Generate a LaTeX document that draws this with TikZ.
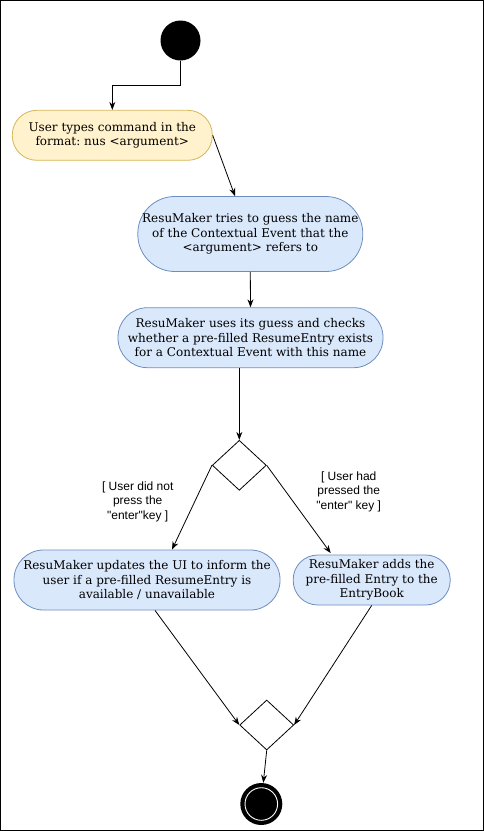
\documentclass[tikz,border=0pt]{standalone}
\usepackage{fontspec}
\setmainfont{DejaVu Serif}
\setsansfont{Liberation Sans}[Ligatures=TeXOff]
\usetikzlibrary{shapes.geometric,arrows.meta,calc}
\definecolor{yfill}{HTML}{FFF2CC}
\definecolor{ydraw}{HTML}{D6B656}
\definecolor{bfill}{HTML}{DAE8FC}
\definecolor{bdraw}{HTML}{6C8EBF}
\frenchspacing
\begin{document}
\begin{tikzpicture}[x=1pt,y=-1pt,
  act/.style={rounded corners=#1, align=center, inner sep=0pt, line width=0.8pt,
    font=\fontsize{12}{14.3}\selectfont},
  yact/.style={act=24.5pt, draw=ydraw, fill=yfill},
  bact/.style={act=#1, draw=bdraw, fill=bfill},
  decision/.style={diamond, draw=black, line width=0.8pt, inner sep=0pt, minimum width=54pt, minimum height=50pt},
  arr/.style={-{Stealth[length=8pt,width=6pt]}, line width=0.8pt, black},
  guard/.style={font=\sffamily\fontsize{12}{14.5}\selectfont, align=center, inner sep=0pt}
]
\useasboundingbox (0,0) rectangle (484,831);
\draw[line width=1.2pt] (0.6,0.6) rectangle (483.4,830.4);

\node[circle, fill=black, minimum size=40pt, inner sep=0pt] (start) at (180.5,40.5) {};

\node[yact, minimum width=200pt, minimum height=50pt] (n1) at (112.3,135.3)
  {User types command in the\\format: nus <argument>};

\node[bact=37pt, minimum width=225pt, minimum height=75pt] (n2) at (250.3,234)
  {ResuMaker tries to guess the name\\of the Contextual Event that the\\<argument> refers to};

\node[bact=29.5pt, minimum width=265pt, minimum height=60pt] (n3) at (250.5,337.7)
  {ResuMaker uses its guess and checks\\whether a pre-filled ResumeEntry exists\\for a Contextual Event with this name};

\node[decision] (d1) at (239.3,465.3) {};

\node[bact=29.5pt, minimum width=266pt, minimum height=60pt] (n4) at (147,580)
  {ResuMaker updates the UI to inform the\\user if a pre-filled ResumeEntry is\\available / unavailable};

\node[bact=24.5pt, minimum width=157pt, minimum height=50pt] (n5) at (371.7,580)
  {ResuMaker adds the\\pre-filled Entry to the\\EntryBook};

\node[guard] (g1) at (137.7,501.5) {[ User did not\\press the\\"enter"key ]};
\node[guard] (g2) at (348.7,491.7) {[ User had\\pressed the\\"enter" key ]};

\node[decision] (d2) at (266.7,725) {};

\node[circle, fill=black, minimum size=42pt, inner sep=0pt] (end) at (261.3,804) {};
\draw[white, line width=0.9pt] (end.center) circle[radius=16.3pt];

\draw[arr] (start.south) -- ++(0,24.5) -| (n1.north);
\draw[arr] (n1.east) -- ($(n2.north)+(-15.3,0)$);
\draw[arr] (n2.south) -- (n3.north);
\draw[arr] (d1.north |- n3.south) -- (d1.north);
\draw[arr] (d1.west) -- ($(n4.north)+(25,0)$);
\draw[arr] (d1.east) -- ($(n5.north)+(-41,-1.5)$);
\draw[arr] ($(n4.south)+(8,0)$) -- (d2.west);
\draw[arr] (n5.south) -- (d2.east);
\draw[arr] (d2.south) -- ($(end.north)+(2,0)$);
\end{tikzpicture}
\end{document}
